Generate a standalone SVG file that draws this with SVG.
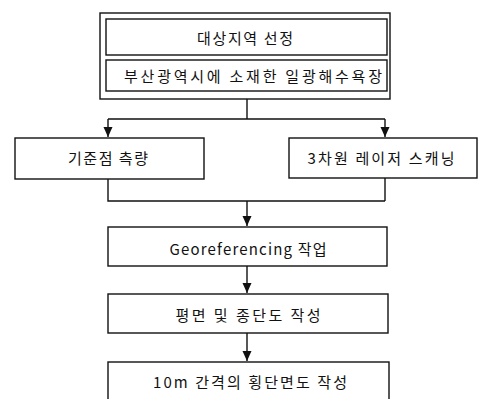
<svg xmlns="http://www.w3.org/2000/svg" width="478" height="399" viewBox="0 0 478 399">
<style>
.box{fill:#fff;stroke:#111;stroke-width:1.4}
.lbl{font-family:"Noto Sans CJK KR","Noto Sans",sans-serif;font-size:15px;fill:#111;text-anchor:middle}
.con{fill:none;stroke:#111;stroke-width:1.4}
</style>
<defs>
<marker id="ah" markerUnits="userSpaceOnUse" markerWidth="10" markerHeight="10" refX="10" refY="5" orient="auto">
<path d="M0,0.5 L10,5 L0,9.5 z" fill="#111"/>
</marker>
</defs>
<rect width="478" height="399" fill="#fff"/>
<g id="target">
<rect class="box" x="100" y="13" width="290" height="86"/>
</g>
<g id="target-title">
<rect class="box" x="106" y="19" width="281" height="36"/>
<text class="lbl" x="245" y="44" textLength="96" lengthAdjust="spacing">대상지역 선정</text>
</g>
<g id="target-site">
<rect class="box" x="106" y="60" width="281" height="31"/>
<text class="lbl" x="253" y="82" textLength="258" lengthAdjust="spacing">부산광역시에 소재한 일광해수욕장</text>
</g>
<g id="survey">
<rect class="box" x="15" y="138" width="189" height="41"/>
<text class="lbl" x="108" y="164" textLength="80" lengthAdjust="spacing">기준점 측량</text>
</g>
<g id="scan">
<rect class="box" x="289" y="138" width="188" height="40"/>
<text class="lbl" x="381" y="164" textLength="147" lengthAdjust="spacing">3차원 레이저 스캐닝</text>
</g>
<g id="georef">
<rect class="box" x="108" y="227" width="279" height="39"/>
<text class="lbl" x="248" y="255" textLength="157" lengthAdjust="spacing">Georeferencing 작업</text>
</g>
<g id="plan">
<rect class="box" x="108" y="294" width="280" height="39"/>
<text class="lbl" x="248" y="321" textLength="145" lengthAdjust="spacing">평면 및 종단도 작성</text>
</g>
<g id="cross">
<rect class="box" x="108" y="362" width="281" height="45"/>
<text class="lbl" x="250" y="388" textLength="194" lengthAdjust="spacing">10m 간격의 횡단면도 작성</text>
</g>
<g id="connectors">
<path class="con" d="M247,99 V119 M108,119 H385"/>
<path class="con" d="M108,119 V137" marker-end="url(#ah)"/>
<path class="con" d="M385,119 V137" marker-end="url(#ah)"/>
<path class="con" d="M108,179 V201 H385 M385,178 V201"/>
<path class="con" d="M247,201 V226" marker-end="url(#ah)"/>
<path class="con" d="M247,266 V293" marker-end="url(#ah)"/>
<path class="con" d="M247,333 V361" marker-end="url(#ah)"/>
</g>
</svg>
